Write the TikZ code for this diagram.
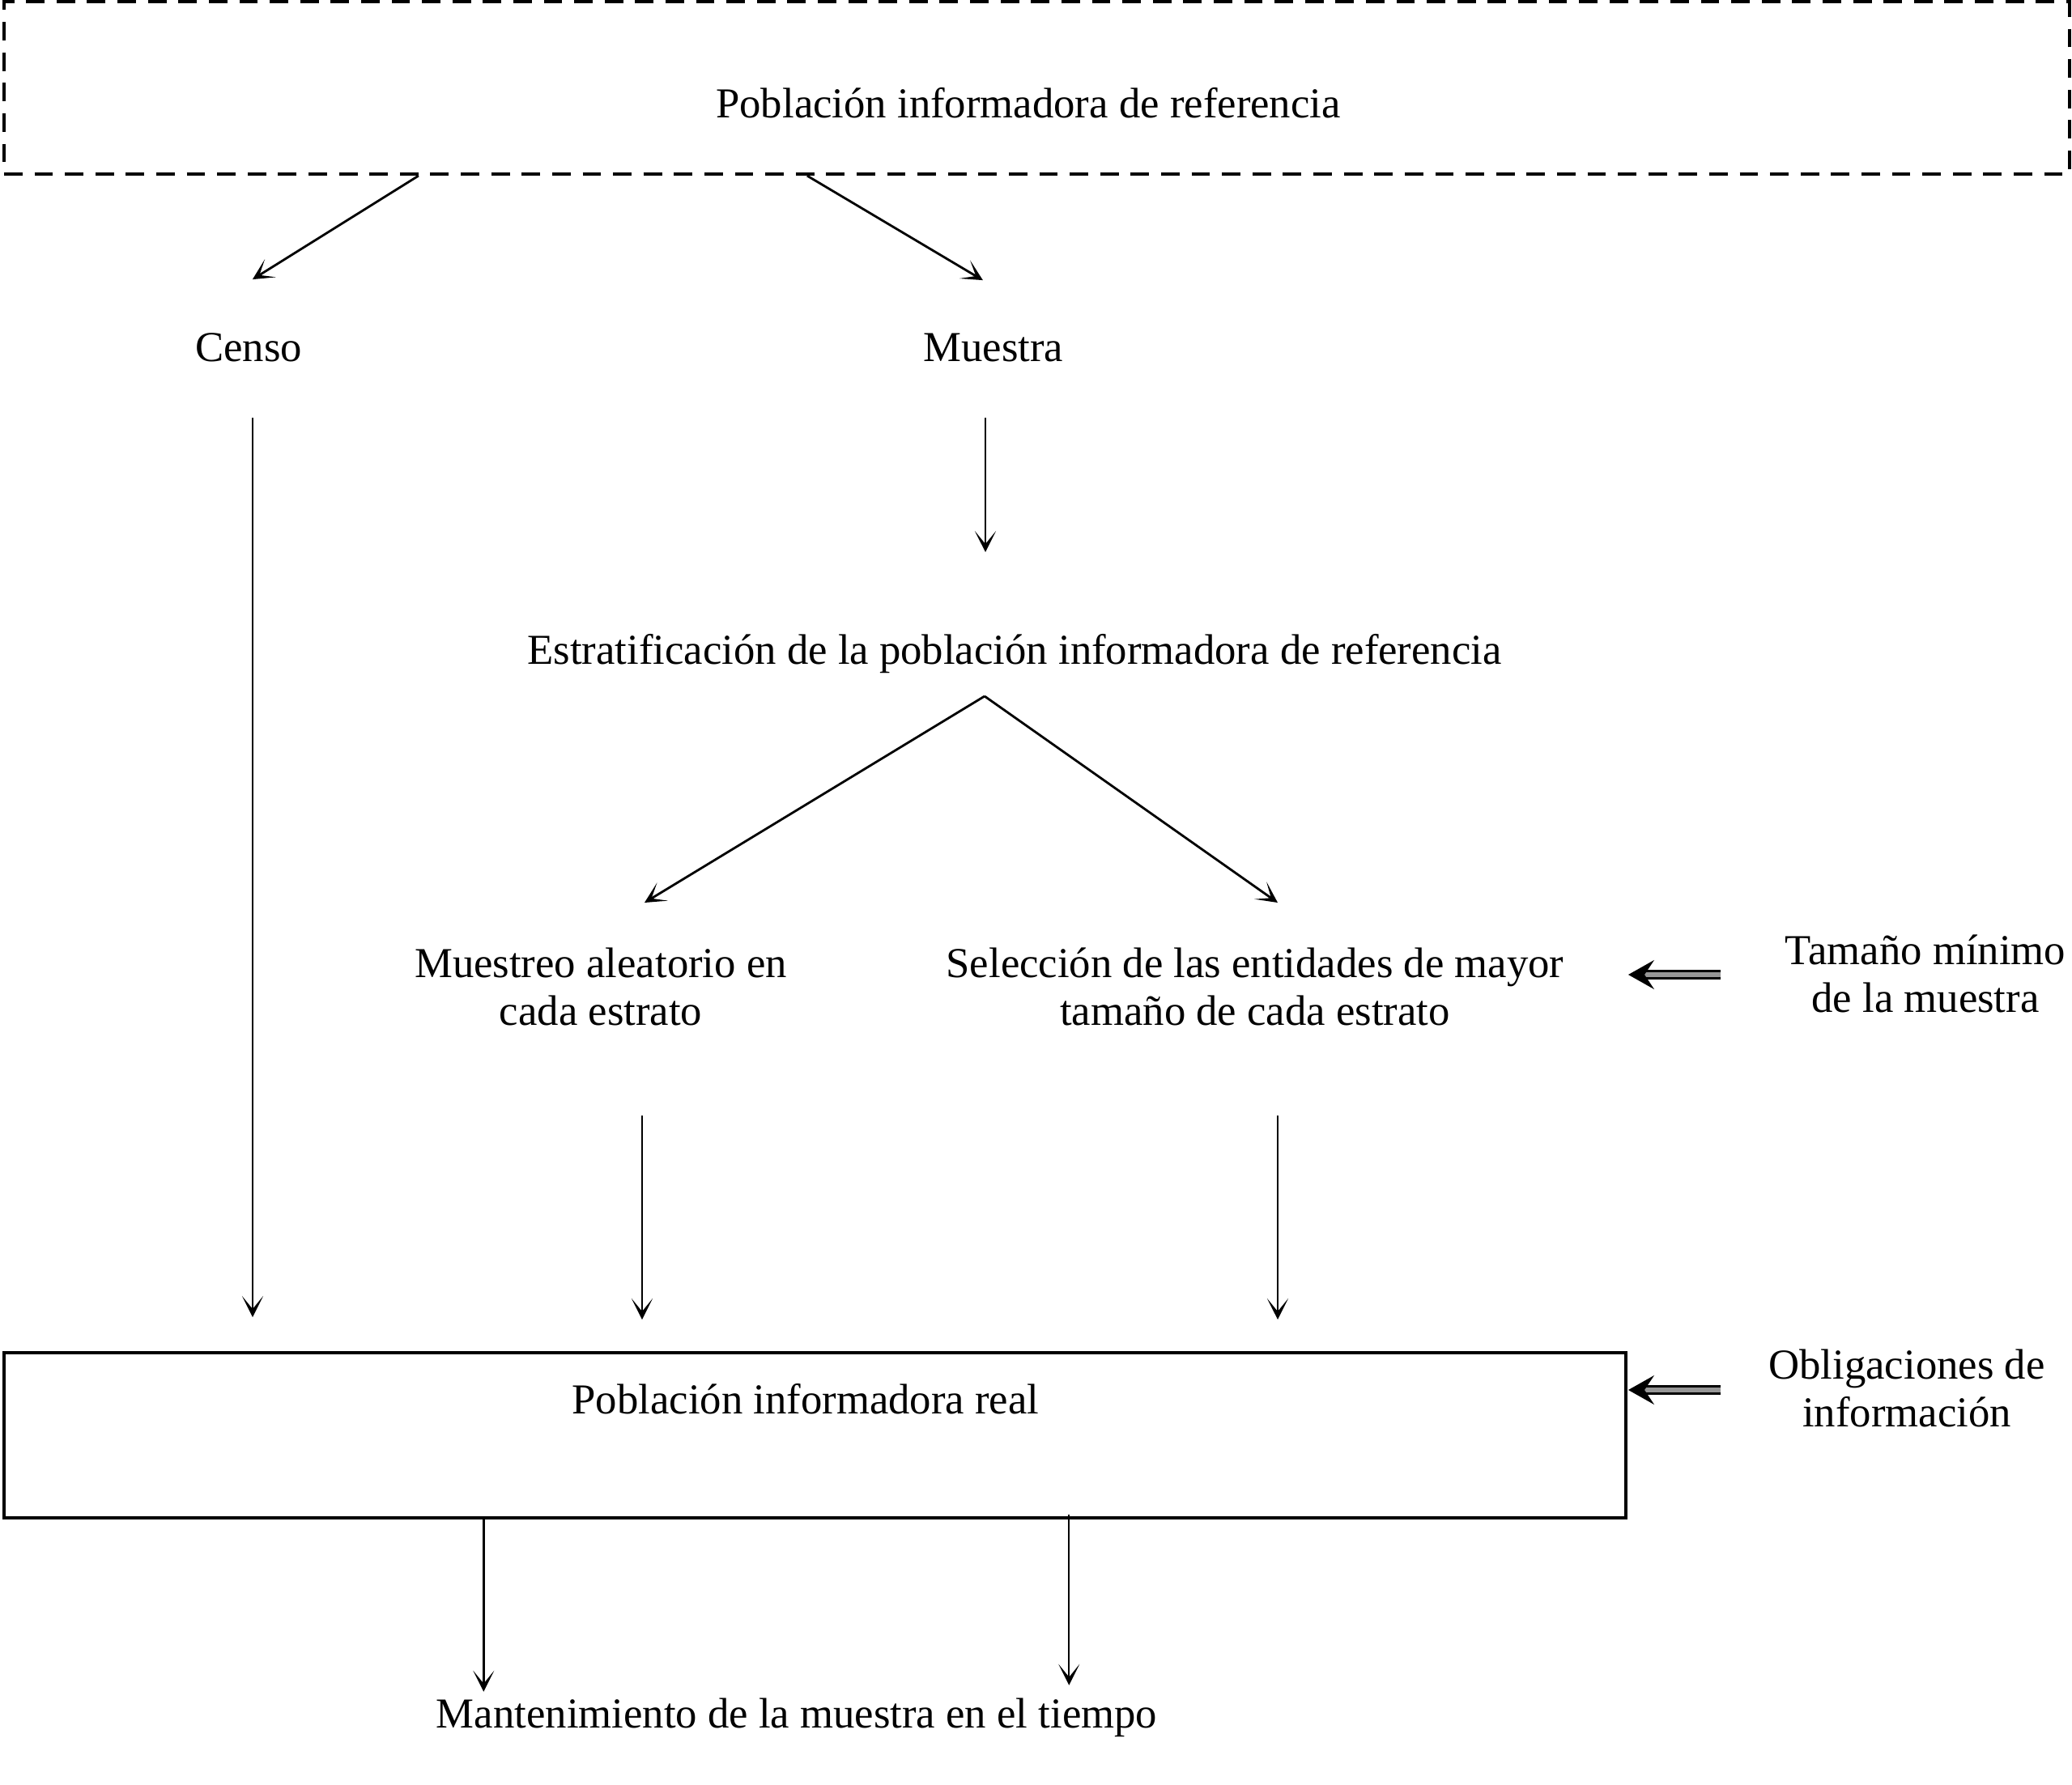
\documentclass[tikz,border=0pt]{standalone}
\usepackage{fontspec}
\setmainfont{Liberation Serif}
\usepackage{tikz}
\usetikzlibrary{arrows.meta,calc}
\definecolor{dGray}{RGB}{150,150,150}
\tikzset{
  txt/.style={align=center, font=\fontsize{15}{17}\selectfont, inner sep=1pt},
  frame/.style={rectangle, draw=black, line width=0.95pt, inner sep=0pt},
  framed/.style={frame, line width=1.2pt, dash pattern=on 6.5pt off 4.2pt},
  flow/.style={-{Stealth[length=2.6mm, width=2.6mm, inset=1.6mm]}, draw=black, line width=0.8pt},
  dflow/.style={-{Stealth[length=3.2mm, width=3.6mm, inset=1.2mm]}, draw=black,
                line width=0.7pt, double=dGray, double distance=1.8pt},
}

\begin{document}
\begin{tikzpicture}
  \useasboundingbox (0,0) rectangle (25.59,-22.05);

  % reference population (dashed frame)
  \node[framed, minimum width=25.51cm, minimum height=2.13cm] (pobref) at (12.805,-1.085){};
  \node[txt] (pobreftxt) at (12.70,-1.27){Población informadora de referencia};

  % census / sample
  \node[txt] (censo) at (3.07,-4.29){Censo};
  \node[txt] (muestra) at (12.27,-4.29){Muestra};

  % stratification
  \node[txt] (estrat) at (12.53,-8.08){Estratificación de la población informadora de referencia};
  \node[txt] (aleat) at (7.42,-12.19){Muestreo aleatorio en\\ cada estrato};
  \node[txt] (mayor) at (15.50,-12.19){Selección de las entidades de mayor\\ tamaño de cada estrato};
  \node[txt] (tamano) at (23.78,-12.03){Tamaño mínimo\\ de la muestra};

  % actual population
  \node[frame, minimum width=20.03cm, minimum height=2.04cm] (real) at (10.065,-17.73){};
  \node[txt] (realtxt) at (9.95,-17.28){Población informadora real};
  \node[txt] (oblig) at (23.55,-17.15){Obligaciones de\\ información};

  \node[txt] (mant) at (9.84,-21.22){Mantenimiento de la muestra en el tiempo};

  % connectors
  \draw[flow] ([xshift=5.14cm]pobref.south west) -- ++(-2.05,-1.28);
  \draw[flow] ([xshift=9.94cm]pobref.south west) -- ++(2.17,-1.29);
  \draw[flow] ([shift={(0.05,-0.87)}]censo.center) -- ++(0,-11.11);
  \draw[flow] ([shift={(-0.10,-0.87)}]muestra.center) -- ++(0,-1.66);
  \draw[flow] ([shift={(-0.37,-0.52)}]estrat.center) -- ++(-4.20,-2.55);
  \draw[flow] ([shift={(-0.37,-0.52)}]estrat.center) -- ++(3.62,-2.55);
  \draw[flow] ([shift={(0.51,-1.59)}]aleat.center) -- ++(0,-2.52);
  \draw[flow] ([shift={(0.28,-1.59)}]mayor.center) -- ++(0,-2.52);
  \draw[flow] ([xshift=5.94cm]real.south west) -- ++(0,-2.13);
  \draw[flow, line width=0.6pt] ([shift={(13.17,0.06)}]real.south west) -- ++(0,-2.11);

  % side inputs
  \draw[dflow] ([shift={(-2.53,-0.01)}]tamano.center) -- ++(-1.14,0);
  \draw[dflow] ([shift={(-2.30,-0.02)}]oblig.center) -- ++(-1.14,0);
\end{tikzpicture}
\end{document}
